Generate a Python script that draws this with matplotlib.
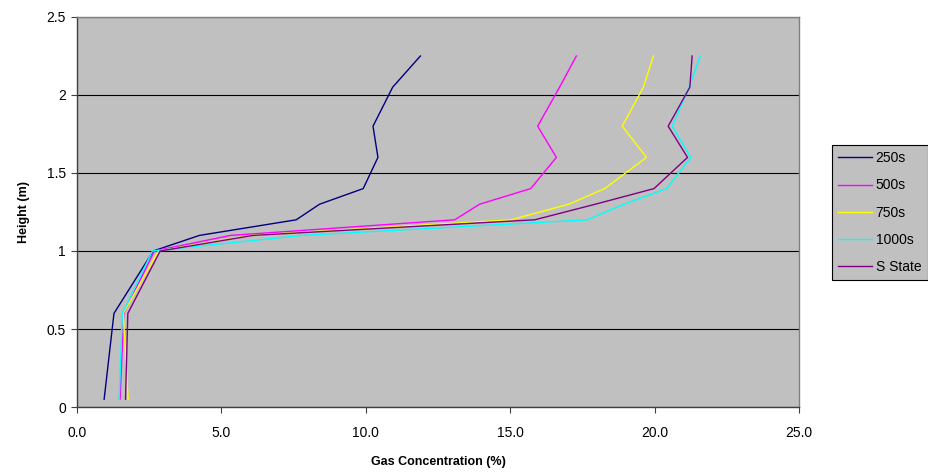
import matplotlib.pyplot as plt
from matplotlib.ticker import FormatStrFormatter

plt.rcParams['font.family'] = ['Liberation Sans', 'DejaVu Sans']

# measurement heights (m)
heights = [0.05, 0.6, 1.0, 1.1, 1.2, 1.3, 1.4, 1.6, 1.8, 2.05, 2.25]

# gas concentration (%) at each height
conc_250 = [0.94, 1.28, 2.64, 4.24, 7.59, 8.40, 9.91, 10.42, 10.25, 10.93, 11.89]
conc_500 = [1.49, 1.62, 2.68, 5.32, 13.08, 13.94, 15.71, 16.60, 15.95, 16.71, 17.29]
conc_750 = [1.77, 1.60, 2.82, 6.05, 15.03, 17.03, 18.27, 19.72, 18.88, 19.61, 19.96]
conc_1000 = [1.46, 1.57, 2.61, 7.80, 17.67, 18.94, 20.42, 21.25, 20.61, 21.19, 21.58]
conc_ss = [1.68, 1.76, 2.88, 6.10, 15.85, 17.95, 19.98, 21.14, 20.47, 21.22, 21.30]

labels = ['250s', '500s', '750s', '1000s', 'S State']
colors = ['#000080', '#FF00FF', '#FFFF00', '#00FFFF', '#800080']
series = [conc_250, conc_500, conc_750, conc_1000, conc_ss]

fig = plt.figure(figsize=(9.29, 4.73), dpi=100)
ax = fig.add_axes([77 / 929, 66 / 473, 722 / 929, 390 / 473])
ax.set_facecolor('#C0C0C0')

for conc, lab, col in zip(series, labels, colors):
    ax.plot(conc, heights, color=col, linewidth=1.0, label=lab)

ax.set_xlim(0, 25)
ax.set_ylim(0, 2.5)
ax.set_xticks([0, 5, 10, 15, 20, 25])
ax.set_yticks([0, 0.5, 1, 1.5, 2, 2.5])
ax.set_yticklabels(['0', '0.5', '1', '1.5', '2', '2.5'])
ax.xaxis.set_major_formatter(FormatStrFormatter('%.1f'))
ax.tick_params(direction='out', length=4, width=0.8, labelsize=10, color='#404040')
ax.tick_params(axis='x', pad=10)
ax.tick_params(axis='y', pad=4)

ax.yaxis.grid(True, color='black', linewidth=0.8)
ax.set_axisbelow(True)

for side in ['top', 'right']:
    ax.spines[side].set_color('#808080')
for side in ['left', 'bottom']:
    ax.spines[side].set_color('#404040')
for s in ax.spines.values():
    s.set_linewidth(1.0)

ax.set_xlabel('Gas Concentration (%)', fontsize=9, fontweight='bold', labelpad=11)
ax.set_ylabel('Height (m)', fontsize=9, fontweight='bold', labelpad=12)

leg = fig.legend(loc='upper left', bbox_to_anchor=(832 / 929, 1 - 145 / 473),
                 borderaxespad=0, fontsize=10, handlelength=2.4, labelspacing=0.95,
                 handletextpad=0.3, borderpad=0.45, fancybox=False, framealpha=1)
leg.get_frame().set_facecolor('#C0C0C0')
leg.get_frame().set_edgecolor('black')
leg.get_frame().set_linewidth(0.8)

fig.savefig('out.png', dpi=100)
